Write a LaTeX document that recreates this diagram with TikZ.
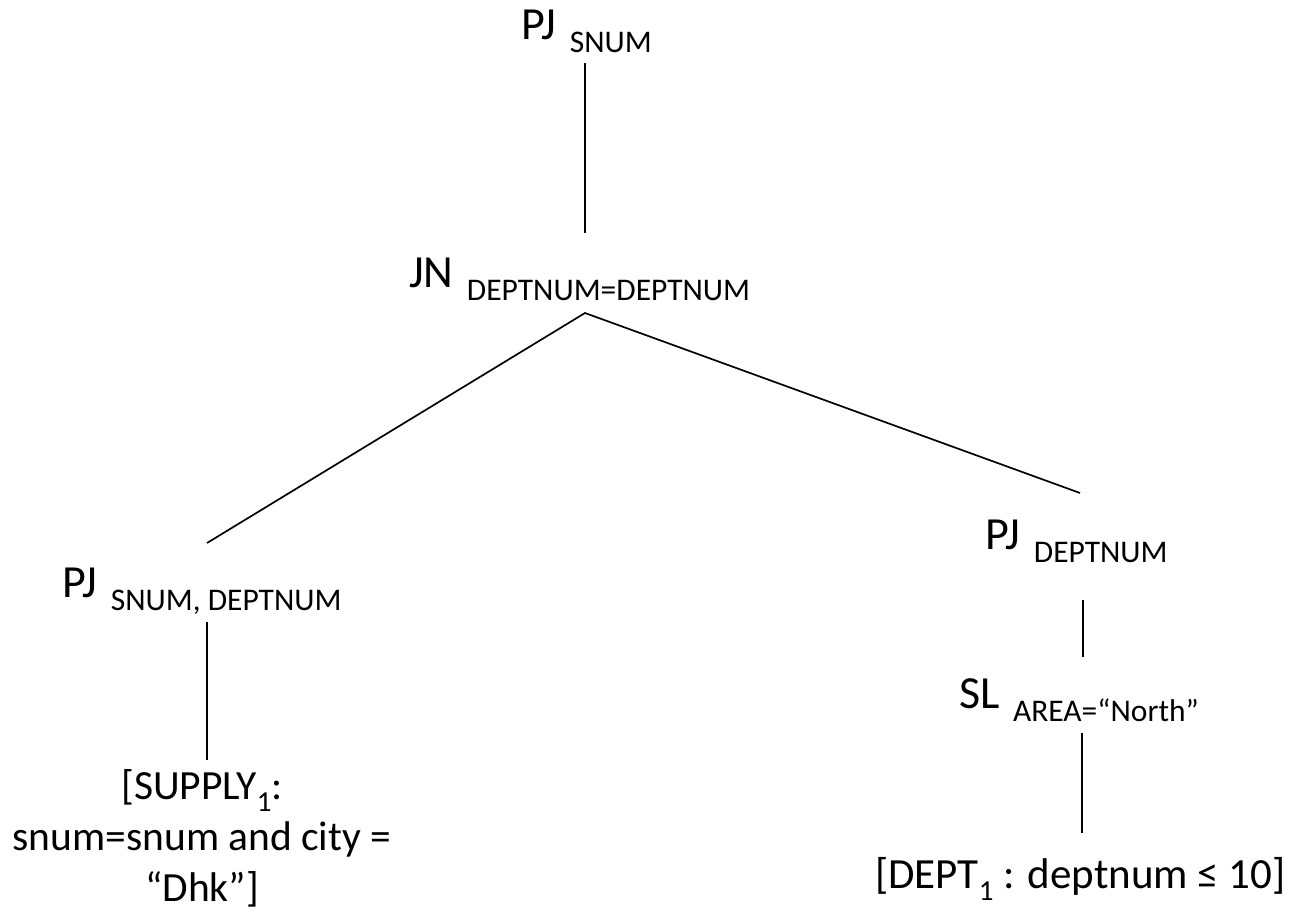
\documentclass[tikz,border=0pt]{standalone}
\usepackage{fontspec}
\setmainfont{Carlito}
% lowered operator subscript, as in the plan's annotations
\newcommand{\opsub}[1]{\hspace{3pt}\raisebox{-13pt}{\fontsize{31.5}{36}\selectfont #1}}
\newcommand{\frag}[1]{\raisebox{-12pt}{\fontsize{29}{30}\selectfont #1}}
\begin{document}
\begin{tikzpicture}[x=1pt,y=-1pt,
  oplbl/.style={inner sep=0pt, anchor=base west, font=\fontsize{46}{55}\selectfont},
  leaf/.style={inner sep=0pt, anchor=base west, font=\fontsize{43}{51}\selectfont},
  edge/.style={line width=1.7pt, black}]
\useasboundingbox (0,0) rectangle (1294,924);

% operator nodes
\node[oplbl] (pjtop) at (521,39)  {PJ \opsub{SNUM}};
\node[oplbl] (jn)    at (409,287) {JN \opsub{DEPTNUM=DEPTNUM}};
\node[oplbl] (pjl)   at (62,597)  {PJ \opsub{SNUM, DEPTNUM}};
\node[oplbl] (pjr)   at (985,549) {PJ \opsub{DEPTNUM}};
\node[oplbl] (sl)    at (959,708) {SL \opsub{AREA=“North”}};

% fragment leaves
\node[leaf, anchor=north, align=center, font=\fontsize{41.5}{51}\selectfont] (supply) at (202,769)
  {[SUPPLY\frag{1}:\\snum=snum and city =\\“Dhk”]};
\node[leaf] (dept) at (875,888) {[DEPT\frag{1} : deptnum ≤ 10]};

% connector end points
\coordinate (t1) at (585,63);
\coordinate (t2) at (585,233);
\coordinate (apex) at (585,313);
\coordinate (lj) at (207,543);
\coordinate (rj) at (1080,493);
\coordinate (l1) at (207,622);
\coordinate (l2) at (207,760);
\coordinate (r1) at (1083,600);
\coordinate (r2) at (1083,657);
\coordinate (r3) at (1082,733);
\coordinate (r4) at (1082,833);

\draw[edge] (t1) -- (t2);
\draw[edge] (lj) -- (apex) -- (rj);
\draw[edge] (l1) -- (l2);
\draw[edge] (r1) -- (r2);
\draw[edge] (r3) -- (r4);
\end{tikzpicture}
\end{document}
